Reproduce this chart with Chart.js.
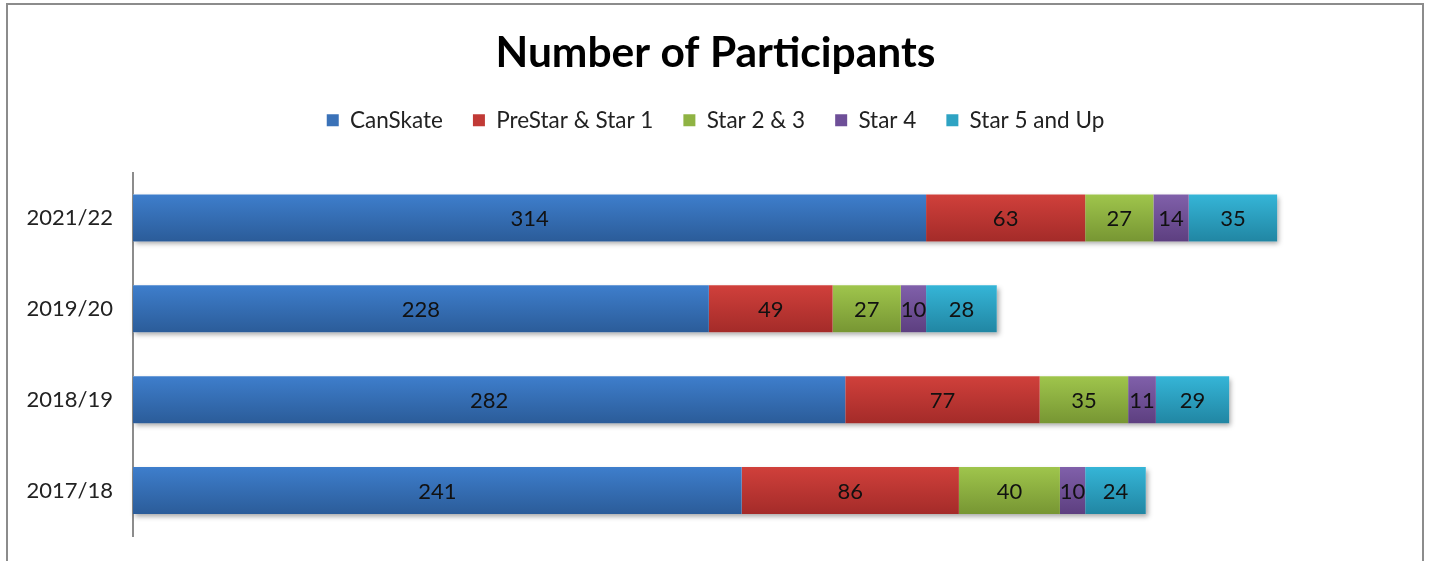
<!DOCTYPE html>
<html><head><meta charset="utf-8">
<script src="https://cdn.jsdelivr.net/npm/chart.js@4.4.0/dist/chart.umd.min.js"></script>
<style>html,body{margin:0;padding:0;background:#fff}#wrap{position:relative;width:1429px;height:561px}</style>
</head><body><div id="wrap"><canvas id="c" width="1429" height="561"></canvas></div>
<script>
const categories = ["2021/22", "2019/20", "2018/19", "2017/18"];
const seriesNames = ["CanSkate", "PreStar & Star 1", "Star 2 & 3", "Star 4", "Star 5 and Up"];
const canSkate = [314, 228, 282, 241];
const preStar = [63, 49, 77, 86];
const star23 = [27, 27, 35, 40];
const star4 = [14, 10, 11, 10];
const star5Up = [35, 28, 29, 24];
const chartTitle = "Number of Participants";

const FONT = "Lato";
const gradStops = [
  ["#3e7ecc", "#2b5c99"],
  ["#d0403b", "#a42b29"],
  ["#9fc54c", "#779633"],
  ["#8060aa", "#5d3f80"],
  ["#35b5d7", "#2186a3"]
];
const legendColors = ["#3a72b8", "#c13a36", "#8fb343", "#6e4f98", "#2ea3c3"];
const seriesValues = [canSkate, preStar, star23, star4, star5Up];

function makeBg(di) {
  return function(ctx) {
    const chart = ctx.chart;
    const ys = chart.scales && chart.scales.y;
    if (!ys || ctx.type !== 'data' || ys.height == null || !isFinite(ys.getPixelForValue(ctx.dataIndex))) return gradStops[di][0];
    const yc = ys.getPixelForValue(ctx.dataIndex);
    const h = 23.5;
    const g = chart.ctx.createLinearGradient(0, yc - h, 0, yc + h);
    g.addColorStop(0, gradStops[di][0]);
    g.addColorStop(1, gradStops[di][1]);
    return g;
  };
}

const borderPlugin = {
  id: 'outerBorder',
  beforeDraw(chart) {
    const c = chart.ctx;
    c.save();
    c.fillStyle = '#fff';
    c.fillRect(0, 0, chart.width, chart.height);
    c.strokeStyle = '#8c8c8c';
    c.lineWidth = 2;
    c.strokeRect(7, 4, 1416, 600);
    c.restore();
  }
};

const legendGapPlugin = {
  id: 'legendGap',
  beforeLayout(chart) {
    const lg = chart.legend;
    if (lg && !lg._gapPatched) {
      const f = lg.fit.bind(lg);
      lg.fit = function() { f(); this.height += 31; };
      lg._gapPatched = true;
    }
  }
};

const shadowPlugin = {
  id: 'barShadow',
  beforeDatasetsDraw(chart) {
    const c = chart.ctx;
    const first = chart.getDatasetMeta(0);
    const last = chart.getDatasetMeta(chart.data.datasets.length - 1);
    c.save();
    c.shadowColor = 'rgba(0,0,0,0.35)';
    c.shadowBlur = 5;
    c.shadowOffsetX = 2;
    c.shadowOffsetY = 3;
    c.fillStyle = '#fff';
    first.data.forEach((el, i) => {
      const e2 = last.data[i];
      const x0 = el.base, x1 = e2.x;
      const h = el.height;
      c.fillRect(x0, el.y - h / 2, x1 - x0, h);
    });
    c.restore();
  }
};

const labelPlugin = {
  id: 'segLabels',
  afterDatasetsDraw(chart) {
    const c = chart.ctx;
    c.save();
    c.font = "22px " + FONT;
    c.fillStyle = '#111';
    c.textAlign = 'center';
    c.textBaseline = 'middle';
    chart.data.datasets.forEach((ds, di) => {
      const meta = chart.getDatasetMeta(di);
      meta.data.forEach((el, i) => {
        c.fillText(String(ds.data[i]), (el.base + el.x) / 2, el.y + 1);
      });
    });
    c.restore();
  }
};

new Chart(document.getElementById('c'), {
  type: 'bar',
  data: {
    labels: categories,
    datasets: seriesNames.map((n, i) => ({
      label: n,
      data: seriesValues[i],
      backgroundColor: makeBg(i),
      borderWidth: 0,
      categoryPercentage: 1,
      barPercentage: 0.516
    }))
  },
  options: {
    indexAxis: 'y',
    responsive: false,
    animation: false,
    layout: { padding: { top: 28, left: 20, right: 18, bottom: 25 } },
    plugins: {
      tooltip: { enabled: false },
      title: {
        display: true, text: chartTitle, color: '#000',
        font: { family: FONT, size: 42.5, weight: 'bold' },
        padding: { top: 0, bottom: 0 }
      },
      legend: {
        display: true, position: 'top',
        labels: {
          font: { family: FONT, size: 22.5 }, color: '#222',
          boxWidth: 12, boxHeight: 12, padding: 30,
          generateLabels(chart) {
            return seriesNames.map((n, i) => ({
              text: n, fillStyle: legendColors[i], strokeStyle: legendColors[i],
              lineWidth: 0, datasetIndex: i, hidden: false, fontColor: '#222'
            }));
          }
        }
      }
    },
    scales: {
      x: { stacked: true, display: false, min: 0, max: 506 },
      y: {
        stacked: true,
        afterFit(s) { s.width = 113; s.paddingTop = 0; s.paddingBottom = 0; },
        grid: { display: false, drawTicks: false },
        border: { display: true, color: '#8c8c8c', width: 2 },
        ticks: { font: { family: FONT, size: 22 }, color: '#222', padding: 20 }
      }
    }
  },
  plugins: [borderPlugin, legendGapPlugin, shadowPlugin, labelPlugin]
});
</script></body></html>
